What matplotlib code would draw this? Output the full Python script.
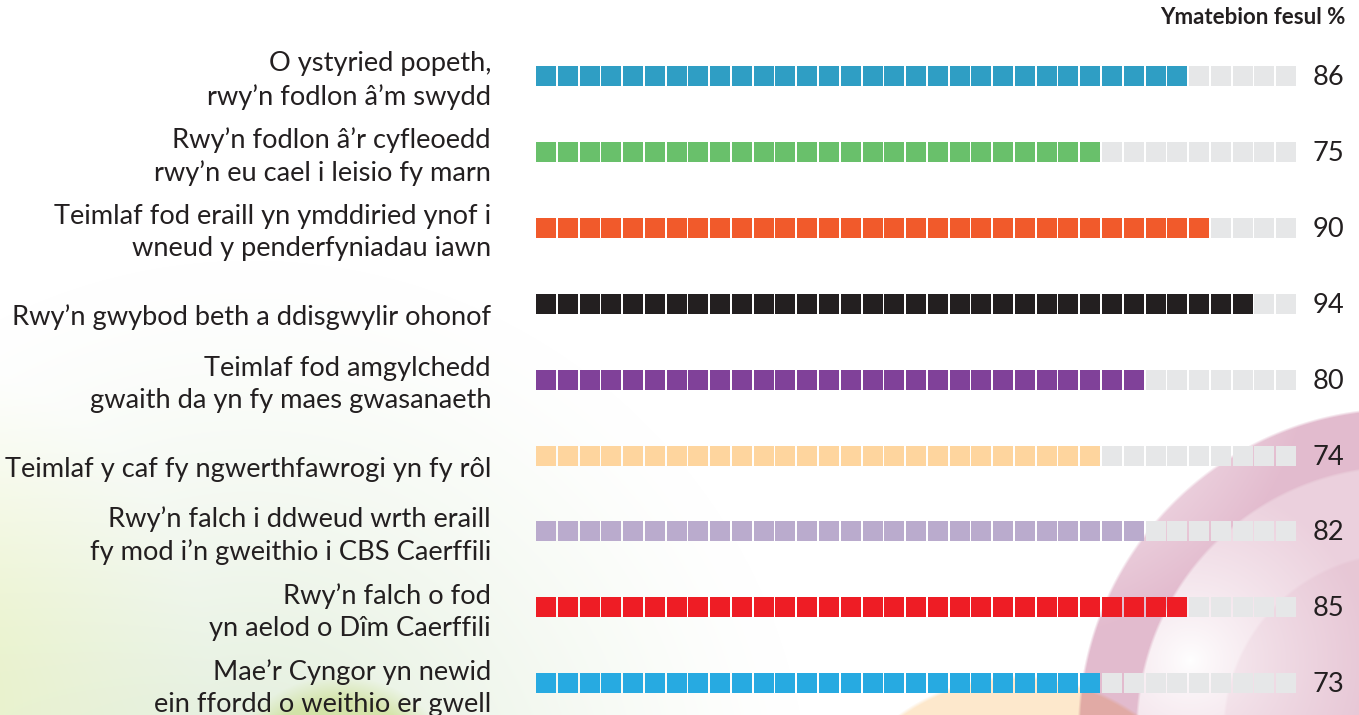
import matplotlib
matplotlib.use('Agg')
import matplotlib.pyplot as plt
import numpy as np

# survey statements (Welsh), percent agreeing and squares filled in the waffle row
labels = [
    'O ystyried popeth,\nrwy’n fodlon â’m swydd',
    'Rwy’n fodlon â’r cyfleoedd\nrwy’n eu cael i leisio fy marn',
    'Teimlaf fod eraill yn ymddiried ynof i\nwneud y penderfyniadau iawn',
    'Rwy’n gwybod beth a ddisgwylir ohonof',
    'Teimlaf fod amgylchedd\ngwaith da yn fy maes gwasanaeth',
    'Teimlaf y caf fy ngwerthfawrogi yn fy rôl',
    'Rwy’n falch i ddweud wrth eraill\nfy mod i’n gweithio i CBS Caerffili',
    'Rwy’n falch o fod\nyn aelod o Dîm Caerffili',
    'Mae’r Cyngor yn newid\nein ffordd o weithio er gwell',
]
values = [86, 75, 90, 94, 80, 74, 82, 85, 73]
filled = [30, 26, 31, 33, 28, 26, 28, 30, 26]
n_squares = 35
colors = ['#2f9ec4', '#69c06b', '#f15a2b', '#231f20', '#804199',
          '#fed59e', '#baabcd', '#ee1d25', '#27aae1']
empty_col = '#e6e7e8'
text_col = '#231f20'
header = 'Ymatebion fesul %'

W, H = 1359, 715
fig = plt.figure(figsize=(W / 100, H / 100), dpi=100)

# decorative background (soft glows and pink rings)
yy, xx = np.mgrid[0:H, 0:W].astype(float)
img = np.ones((H, W, 3))


def blend(weight, rgb):
    global img
    c = np.array(rgb) / 255.0
    img = img * (1 - weight[..., None] * (1 - c))


def soft_disc(cx, cy, r, edge):
    d = np.hypot(xx - cx, yy - cy)
    return np.clip((r - d) / edge, 0, 1)


d = np.hypot(xx - 250, yy - 820)
blend(np.clip(1 - d / 560, 0, 1) ** 1.3, (222, 236, 214))
d = np.hypot(xx + 120, yy - 680)
blend(np.clip(1 - d / 330, 0, 1) ** 1.2, (240, 246, 196))
blend(soft_disc(340, 800, 125, 25), (232, 240, 190))
blend(soft_disc(1018, 880, 205, 4), (253, 232, 204))

fade = np.clip(np.hypot(xx - 1010, yy - 340) / 300, 0, 1) ** 1.2
ring = soft_disc(1400, 730, 323, 3) - soft_disc(1400, 730, 265, 3)
blend(ring * fade * 0.85, (222, 176, 198))
mid = soft_disc(1400, 730, 265, 3)
wfade = np.clip(np.hypot(xx - 1190, yy - 660) / 180, 0, 1) ** 0.8
blend(mid * wfade * 0.85, (232, 200, 215))
blend(soft_disc(1400, 730, 178, 3) * 0.3, (240, 218, 228))

bg = fig.add_axes([0, 0, 1, 1], zorder=0)
bg.imshow(img, extent=(0, W, H, 0), aspect='auto')
bg.set_xlim(0, W)
bg.set_ylim(H, 0)
bg.axis('off')

# waffle rows
x0, pitch = 536, 21.77
row0, row_step = 76, 75.9
ax = fig.add_axes([x0 / W, 1 - (row0 + 8.4 * row_step) / H,
                   n_squares * pitch / W, 8.9 * row_step / H], zorder=1)
ax.set_xlim(0, n_squares)
ax.set_ylim(8.4, -0.5)
ax.axis('off')

sq_w = 20 / pitch
sq_h = 20 / row_step
pos = np.arange(n_squares)
for i in range(len(values)):
    cols = [colors[i] if j < filled[i] else empty_col for j in pos]
    ax.barh([i] * n_squares, [sq_w] * n_squares, left=pos, height=sq_h,
            color=cols, linewidth=0)
    dy = 0.06 if '\n' in labels[i] else 0.18
    ax.text(-(536 - 491) / pitch, i + dy, labels[i], ha='right', va='center',
            fontsize=19.6, family='Lato', color=text_col, linespacing=1.36)
    ax.text((1313 - 536) / pitch, i + 0.02, str(values[i]), ha='left', va='center',
            fontsize=19.6, family='Lato', color=text_col)

fig.text(1345 / W, 1 - 18 / H, header, ha='right', va='center',
         fontsize=16, fontweight='bold', family='Lato', color=text_col)

fig.savefig('out.png', dpi=100)
